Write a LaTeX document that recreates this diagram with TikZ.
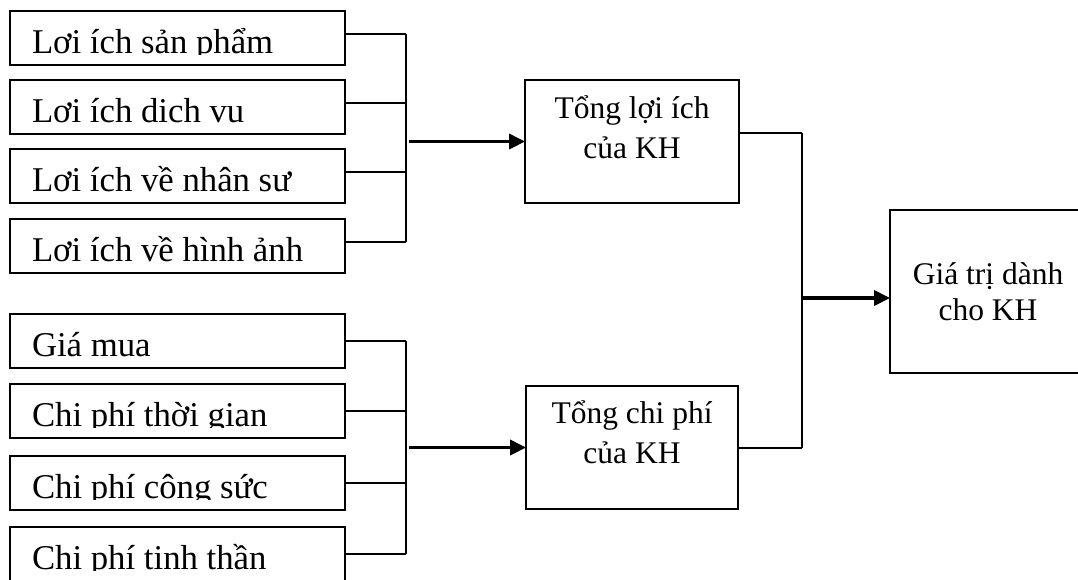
\documentclass[tikz,border=0pt]{standalone}
\usepackage{fontspec}
\setmainfont{Liberation Serif}
\usetikzlibrary{arrows.meta}

\newcommand\boxfont{\fontsize{22.4}{27}\selectfont}
\newcommand\itemfont{\fontsize{24.7}{30}\selectfont}

\begin{document}
\begin{tikzpicture}[x=0.025cm, y=-0.025cm, font=\boxfont,
    wire/.style={line width=1.4pt},
    feed/.style={line width=2.3pt, -{Triangle[length=0.4cm, width=0.38cm]}},
    item/.style={draw, line width=1.4pt, anchor=north west, inner sep=0pt, outer sep=0pt,
      minimum width=8.375cm, minimum height=1.35cm,
      path picture={
        \clip (path picture bounding box.north west) rectangle ([yshift=-1.08cm]path picture bounding box.north east);
        \node[anchor=base west, draw=none, inner sep=0pt, minimum width=0pt, minimum height=0pt, font=\itemfont]
          at ([xshift=0.55cm, yshift=-1.05cm]path picture bounding box.north west) {#1};
      }},
    sumbox/.style={draw, line width=1.4pt, anchor=north west, inner sep=0pt, outer sep=0pt,
      minimum width=5.35cm, minimum height=3.075cm}
  ]

  \useasboundingbox (0,0) rectangle (1078,579);
  \clip (0,0) rectangle (1078,579);

  % Benefit boxes (top) and cost boxes (bottom)
  \node[item={Lợi ích sản phẩm}] (b1) at (10,11) {};
  \node[item={Lợi ích dịch vụ}] (b2) at (10,80) {};
  \node[item={Lợi ích về nhân sự}] (b3) at (10,149) {};
  \node[item={Lợi ích về hình ảnh}] (b4) at (10,219) {};

  \node[item={Giá mua}] (c1) at (10,314) {};
  \node[item={Chi phí thời gian}] (c2) at (10,384) {};
  \node[item={Chi phí công sức}] (c3) at (10,456) {};
  \node[item={Chi phí tinh thần}] (c4) at (10,527) {};

  % Totals (text hangs from the top, base = last line)
  \node[sumbox] (tl) at (525,80) {};
  \node[align=center, anchor=base] (tlt) at ([yshift=-1.95cm]tl.north) {Tổng lợi ích\\[1pt]của KH};
  \node[sumbox, minimum width=5.3cm] (tc) at (526,386) {};
  \node[align=center, anchor=base] (tct) at ([yshift=-1.925cm]tc.north) {Tổng chi phí\\[1pt]của KH};

  % Customer value
  \node[draw, line width=1.4pt, anchor=north west, outer sep=0pt, align=center,
    minimum width=4.9cm, minimum height=4.075cm] (gv) at (890,210) {Giá trị dành\\[-1.5pt]cho KH};

  % Left buses
  \coordinate (busL) at (406,0);
  \coordinate (busR) at (802,298);

  \foreach \b in {b1,b2,b3,b4} {
    \coordinate (r\b) at ([yshift=0.1cm]\b.east);
    \draw[wire] (r\b) -- (r\b -| busL);
  }
  \draw[wire] (rb1 -| busL) -- (rb4 -| busL);
  \coordinate (inA) at (busL |- tl.west);
  \draw[feed] ([xshift=0.075cm]inA) -- (tl.west);

  \foreach \c in {c1,c2,c3,c4}
    \draw[wire] (\c.east) -- (\c.east -| busL);
  \draw[wire] (c1.east -| busL) -- (c4.east -| busL);
  \coordinate (inB) at (busL |- tc.west);
  \draw[feed] ([xshift=0.075cm]inB) -- (tc.west);

  % Right bus into the value box
  \coordinate (rtl) at ([yshift=0.21cm]tl.east);
  \draw[wire] (rtl) -- (rtl -| busR);
  \draw[wire] (tc.east) -- (tc.east -| busR);
  \draw[wire] (rtl -| busR) -- (tc.east -| busR);
  \draw[feed] (busR) -- (busR -| gv.west);

\end{tikzpicture}
\end{document}
